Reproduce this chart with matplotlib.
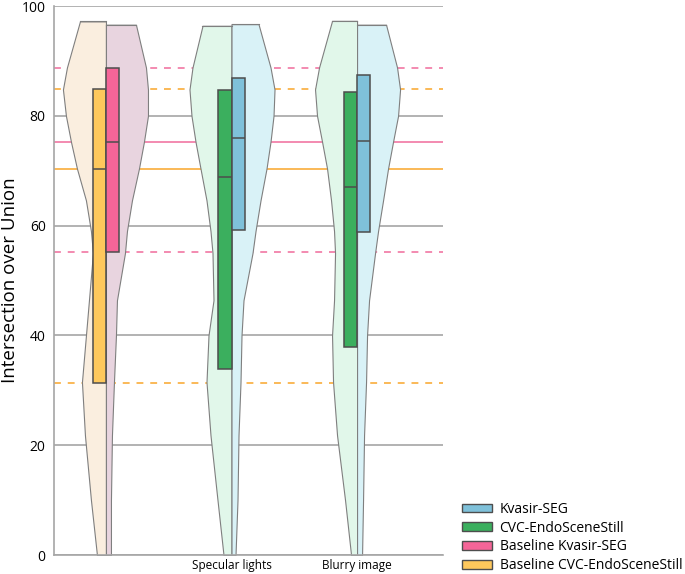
"""Split violins of IoU per perturbation, with baseline reference lines."""

import numpy as np
import matplotlib

matplotlib.use("Agg")
import matplotlib.pyplot as plt
from matplotlib.patches import Patch

plt.rcParams["font.family"] = ["Open Sans", "DejaVu Sans"]

# ---- data ----
CATEGORIES = ["", "Specular lights", "Blurry image"]
SERIES = ["Kvasir-SEG", "CVC-EndoSceneStill", "Baseline Kvasir-SEG", "Baseline CVC-EndoSceneStill"]

# box stats per category: (q1, median, q3); left half = CVC, right half = Kvasir
LEFT_Q1 = [31.4, 33.9, 37.8]
LEFT_MED = [70.4, 68.9, 67.0]
LEFT_Q3 = [84.8, 84.7, 84.3]
RIGHT_Q1 = [55.2, 59.2, 58.8]
RIGHT_MED = [75.3, 75.9, 75.5]
RIGHT_Q3 = [88.8, 86.9, 87.4]

# baseline reference lines (median solid, quartiles dashed)
BASE_KVASIR = [55.2, 75.3, 88.8]
BASE_CVC = [31.4, 70.4, 84.8]

# violin half-width profiles (relative density) at these IoU levels
PROFILE_Y = [0, 10, 21.8, 31.5, 40, 46.4, 55, 59, 64.6, 70.4, 75.3, 80, 84.8, 88.8]
LEFT_TOP = [97.2, 96.4, 97.3]
RIGHT_TOP = [96.6, 96.7, 96.6]
LEFT_TOP_W = [26, 29, 25]
RIGHT_TOP_W = [30, 27, 29]
LEFT_W = [
    [9, 15, 21, 24, 20, 17, 13, 15, 20, 29, 35, 40, 43, 39],
    [8, 14, 21, 25, 23, 18, 19, 21, 25, 31, 36, 40, 42, 39],
    [6, 12, 20, 24, 25, 23, 22, 23, 26, 30, 35, 40, 42, 38],
]
RIGHT_W = [
    [5, 5, 6, 8, 10, 11, 19, 21, 26, 33, 38, 42, 42, 40],
    [4, 6, 7, 9, 10, 12, 21, 24, 29, 35, 39, 42, 43, 39],
    [5, 6, 7, 9, 10, 12, 18, 21, 26, 31, 36, 41, 43, 40],
]

# ---- style ----
C_KVASIR, C_KVASIR_V = "#7fc1da", "#d9f2f7"
C_CVC, C_CVC_V = "#3baf5e", "#e1f7ea"
C_BKVASIR, C_BKVASIR_V = "#f56598", "#e8d4df"
C_BCVC, C_BCVC_V = "#fec85c", "#faeedf"
LINE_PINK = "#f06b9b"
LINE_ORANGE = "#f9a62a"
GRID = "#a6a6a6"
EDGE = "#4d4d4d"
V_EDGE = "#7f7f7f"
WIDTH_SCALE = 1 / 125.5
BOX_W = 0.104

fig = plt.figure(figsize=(6.85, 5.74), dpi=100)
ax = fig.add_axes([0.0788, 0.0331, 0.568, 0.9564])

positions = np.arange(len(CATEGORIES))
ax.set_xlim(-0.414, 2.685)
ax.set_ylim(0, 100)

# reference lines
for vals, col in ((BASE_KVASIR, LINE_PINK), (BASE_CVC, LINE_ORANGE)):
    for i, v in enumerate(vals):
        ls = "-" if i == 1 else (0, (4.5, 4.5))
        ax.axhline(v, color=col, lw=1.1, ls=ls, zorder=1)

for i, pos in enumerate(positions):
    base = i == 0
    lv = C_BCVC_V if base else C_CVC_V
    rv = C_BKVASIR_V if base else C_KVASIR_V
    lb = C_BCVC if base else C_CVC
    rb = C_BKVASIR if base else C_KVASIR

    ly = np.array(PROFILE_Y + [LEFT_TOP[i]])
    lw = np.array(LEFT_W[i] + [LEFT_TOP_W[i]]) * WIDTH_SCALE
    ax.fill_betweenx(ly, pos - lw, pos, facecolor=lv, edgecolor=V_EDGE, lw=0.8, zorder=2)
    ry = np.array(PROFILE_Y + [RIGHT_TOP[i]])
    rw = np.array(RIGHT_W[i] + [RIGHT_TOP_W[i]]) * WIDTH_SCALE
    ax.fill_betweenx(ry, pos, pos + rw, facecolor=rv, edgecolor=V_EDGE, lw=0.8, zorder=2)
    # flat tops
    ax.plot([pos - lw[-1], pos], [ly[-1]] * 2, color=V_EDGE, lw=0.8, zorder=2)
    ax.plot([pos, pos + rw[-1]], [ry[-1]] * 2, color=V_EDGE, lw=0.8, zorder=2)

    ax.bar(pos - BOX_W, LEFT_Q3[i] - LEFT_Q1[i], bottom=LEFT_Q1[i], width=BOX_W,
           align="edge", color=lb, edgecolor=EDGE, lw=1.1, zorder=3)
    ax.bar(pos, RIGHT_Q3[i] - RIGHT_Q1[i], bottom=RIGHT_Q1[i], width=BOX_W,
           align="edge", color=rb, edgecolor=EDGE, lw=1.1, zorder=3)
    ax.hlines(LEFT_MED[i], pos - BOX_W, pos, color=EDGE, lw=1.1, zorder=4)
    ax.hlines(RIGHT_MED[i], pos, pos + BOX_W, color=EDGE, lw=1.1, zorder=4)

ax.set_yticks(np.arange(0, 101, 20))
ax.grid(axis="y", color=GRID, lw=1.2, zorder=0)
ax.set_axisbelow(True)
for s in ("top", "right"):
    ax.spines[s].set_visible(False)
for s in ("left", "bottom"):
    ax.spines[s].set_color(GRID)
    ax.spines[s].set_linewidth(1.2)
ax.set_xticks(positions)
ax.set_xticklabels(CATEGORIES, fontsize=8.5)
ax.tick_params(axis="both", length=0)
ax.tick_params(axis="y", labelsize=10, pad=6)
ax.tick_params(axis="x", pad=3)
ax.set_ylabel("Intersection over Union", fontsize=13.5)
ax.yaxis.set_label_coords(-0.09, 0.5)

handles = [
    Patch(facecolor=C_KVASIR, edgecolor=EDGE, lw=1.0),
    Patch(facecolor=C_CVC, edgecolor=EDGE, lw=1.0),
    Patch(facecolor=C_BKVASIR, edgecolor=EDGE, lw=1.0),
    Patch(facecolor=C_BCVC, edgecolor=EDGE, lw=1.0),
]
fig.legend(handles, SERIES, loc="upper left", bbox_to_anchor=(0.674, 0.126),
           frameon=False, fontsize=10, handlelength=2.15, handleheight=0.55,
           handletextpad=0.58, labelspacing=0.28, borderpad=0, borderaxespad=0)

fig.savefig("out.png", dpi=100)
